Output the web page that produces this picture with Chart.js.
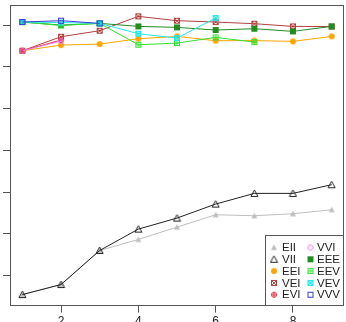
<!DOCTYPE html>
<html><head><meta charset="utf-8">
<script src="https://cdn.jsdelivr.net/npm/chart.js@4.4.1/dist/chart.umd.min.js"></script>
<style>html,body{margin:0;padding:0;overflow:hidden;background:#fff}#wrap{width:346px;height:322px;overflow:hidden;position:relative}canvas{display:block}</style>
</head><body>
<div id="wrap"><canvas id="c" width="346" height="331"></canvas></div>
<script>
const components = [1,2,3,4,5,6,7,8,9];
const xTicks = [2,4,6,8];
const yTicks = [-6000,-5500,-5000,-4500,-4000,-3500,-3000];
const modelNames = ['EII','VII','EEI','VEI','EVI','VVI','EEE','EEV','VEV','VVV'];
const EII = [-6228,-6108,-5700,-5568,-5420,-5272,-5284,-5260,-5212];
const VII = [-6228,-6108,-5700,-5444,-5312,-5144,-5016,-5016,-4912];
const EEI = [-3308,-3240,-3228,-3164,-3136,-3188,-3186,-3196,-3136];
const VEI = [-3308,-3140,-3068,-2896,-2948,-2964,-2984,-3016,-3018];
const EVI = [-3308,-3180,null,null,null,null,null,null,null];
const VVI = [-3308,-3192,null,null,null,null,null,null,null];
const EEE = [-2964,-3000,-2980,-3016,-3028,-3060,-3044,-3076,-3016];
const EEV = [-2964,-3006,-2980,-3236,-3216,-3148,-3204,null,null];
const VEV = [-2964,-2970,-2980,-3104,-3156,-2916,null,null,null];
const VVV = [-2964,-2948,-2980,null,null,null,null,null,null];
const seriesValues = [EII,VII,EEI,VEI,EVI,VVI,EEE,EEV,VEV,VVV];

const colors = ['#BEBEBE','#222222','#FFA500','#B0403F','#E8283C','#E77CE8','#228B22','#33E033','#22E8E8','#3A3AD6'];
const kinds  = ['triF','triO','dot','sqX','cirP','cirO','sqF','sqP','sqXc','sqO'];

function sym(kind, color){
  const s = (kind==='triO') ? 9 : 8;
  const c = document.createElement('canvas'); c.width = c.height = s;
  const g = c.getContext('2d'); g.strokeStyle = color; g.fillStyle = color; g.lineWidth = 1;
  const m = s/2;
  g.beginPath();
  switch(kind){
    case 'triF':
      g.moveTo(m,1); g.lineTo(s-1,s-1.5); g.lineTo(1,s-1.5); g.closePath(); g.fill(); break;
    case 'triO':
      g.moveTo(m,1); g.lineTo(s-1,s-1.5); g.lineTo(1,s-1.5); g.closePath(); g.stroke(); break;
    case 'dot':
      g.arc(m,m,m-1,0,2*Math.PI); g.fill(); break;
    case 'cirO':
      g.arc(m,m,m-1.5,0,2*Math.PI); g.stroke(); break;
    case 'cirP':
      g.arc(m,m,m-1.5,0,2*Math.PI); g.moveTo(m,1); g.lineTo(m,s-1); g.moveTo(1,m); g.lineTo(s-1,m); g.stroke(); break;
    case 'sqF':
      g.fillRect(1,1,s-2,s-2); break;
    case 'sqO':
      g.strokeRect(1.5,1.5,s-3,s-3); break;
    case 'sqX':
      g.strokeRect(1.5,1.5,s-3,s-3); g.moveTo(1.5,1.5); g.lineTo(s-1.5,s-1.5); g.moveTo(s-1.5,1.5); g.lineTo(1.5,s-1.5); g.stroke(); break;
    case 'sqXc':
      g.globalAlpha=0.45; g.fillRect(1,1,s-2,s-2); g.globalAlpha=1;
      g.strokeRect(1.5,1.5,s-3,s-3); g.moveTo(1.5,1.5); g.lineTo(s-1.5,s-1.5); g.moveTo(s-1.5,1.5); g.lineTo(1.5,s-1.5); g.stroke(); break;
    case 'sqP':
      g.strokeRect(1.5,1.5,s-3,s-3); g.moveTo(m,1.5); g.lineTo(m,s-1.5); g.moveTo(1.5,m); g.lineTo(s-1.5,m); g.stroke(); break;
  }
  return c;
}

const datasets = modelNames.map((name,i)=>({
  label: name,
  data: components.map((x,j)=>({x:x, y:seriesValues[i][j]})),
  borderColor: colors[i],
  backgroundColor: colors[i],
  borderWidth: 1,
  pointStyle: sym(kinds[i], colors[i]),
  pointRadius: 3,
  tension: 0,
  spanGaps: false,
  order: -i
}));

const framePlugin = {
  id:'frame',
  afterDraw(chart){
    const {ctx, chartArea:a} = chart;
    ctx.save();
    ctx.strokeStyle = '#555'; ctx.lineWidth = 1;
    const l = Math.round(a.left)+0.5, t = Math.round(a.top)+0.5, r = Math.round(a.right)-0.5, b = Math.round(a.bottom)-0.5;
    ctx.strokeRect(l, t, r-l, b-t);
    const bw = 78, bh = 70;
    const bx = Math.round(a.right)-bw-0.5, by = Math.round(a.bottom)-bh-0.5;
    ctx.fillStyle = '#fff';
    ctx.fillRect(bx, by, bw, bh);
    ctx.strokeRect(bx, by, bw, bh);
    ctx.font = '11.5px "Liberation Sans", Arial, sans-serif';
    ctx.textBaseline = 'middle';
    ctx.fillStyle = '#222';
    chart.data.datasets.forEach((ds,i)=>{
      const col = Math.floor(i/5), row = i%5;
      const cy = by + 12 + row*11.8;
      const sx = bx + 8.5 + col*36.5;
      const img = ds.pointStyle;
      ctx.drawImage(img, sx - img.width/2, cy - img.height/2);
      ctx.fillText(ds.label, bx + 16.5 + col*35, cy + 0.5);
    });
    ctx.restore();
  }
};

new Chart(document.getElementById('c'), {
  type: 'line',
  data: { datasets },
  options: {
    responsive: false, animation: false, devicePixelRatio: 1,
    layout: { autoPadding: false, padding: { left: 3, right: 2, top: 5, bottom: 0 } },
    plugins: { legend: { display: false }, tooltip: { enabled: false } },
    scales: {
      x: {
        type: 'linear', min: 0.68, max: 9.32,
        afterBuildTicks: s => { s.ticks = xTicks.map(v => ({ value: v })); },
        grid: { display: true, drawOnChartArea: false, drawTicks: true, tickLength: 7, color: '#555' },
        border: { display: false },
        ticks: { font: { family: '"Liberation Sans", Arial, sans-serif', size: 12 }, color: '#222', padding: 2, autoSkip: false, maxRotation: 0 }
      },
      y: {
        type: 'linear', min: -6360, max: -2760,
        afterBuildTicks: s => { s.ticks = yTicks.map(v => ({ value: v })); },
        grid: { display: true, drawOnChartArea: false, drawTicks: true, tickLength: 7, color: '#555' },
        border: { display: false },
        ticks: { display: false }
      }
    }
  },
  plugins: [framePlugin]
});
</script>
</body></html>
